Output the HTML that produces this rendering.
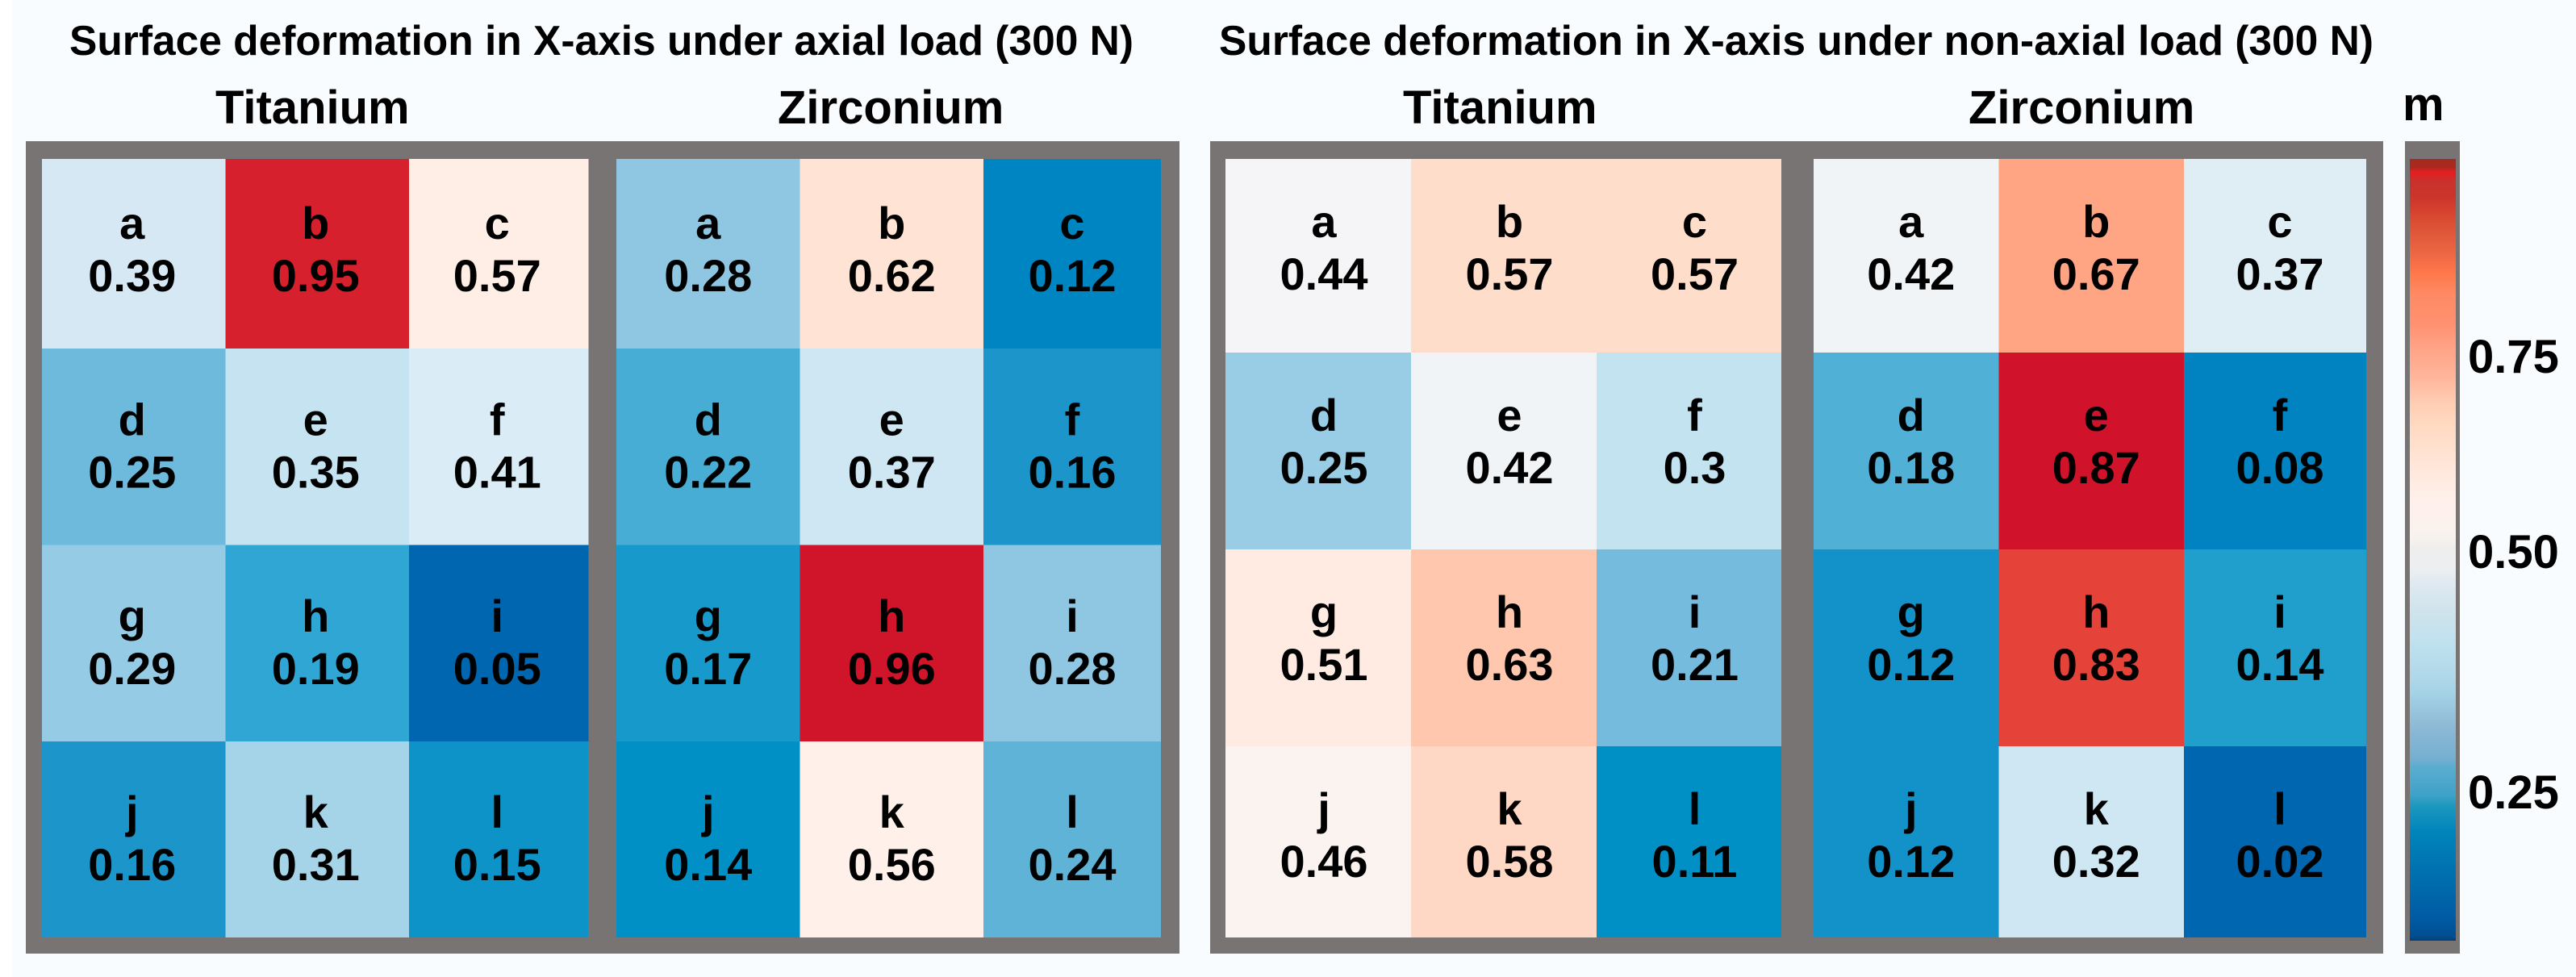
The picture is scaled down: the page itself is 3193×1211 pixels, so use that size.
<!DOCTYPE html>
<html lang="en">
<head>
<meta charset="utf-8">
<title>Surface deformation heatmaps</title>
<style>
  html, body { margin: 0; padding: 0; background: #fff; }
  body { width: 3193px; height: 1211px; overflow: hidden; }
  svg { display: block; }
  text { font-family: "Liberation Sans", Arial, sans-serif; font-weight: bold; fill: #000; }
</style>
</head>
<body>
<svg id="chart" xmlns="http://www.w3.org/2000/svg" width="3193" height="1211" viewBox="0 0 3193 1211">
  <defs>
    <linearGradient id="bar-gradient" x1="0" y1="197" x2="0" y2="1166" gradientUnits="userSpaceOnUse">
      <stop offset="0" stop-color="#A82A1E"/>
      <stop offset="0.011" stop-color="#A82A1E"/>
      <stop offset="0.016" stop-color="#E51D22"/>
      <stop offset="0.029" stop-color="#C9312C"/>
      <stop offset="0.050" stop-color="#CC352B"/>
      <stop offset="0.070" stop-color="#D7452F"/>
      <stop offset="0.101" stop-color="#E25C3C"/>
      <stop offset="0.122" stop-color="#EE6744"/>
      <stop offset="0.147" stop-color="#FF784C"/>
      <stop offset="0.173" stop-color="#FF8A64"/>
      <stop offset="0.209" stop-color="#FF9070"/>
      <stop offset="0.240" stop-color="#FFA285"/>
      <stop offset="0.282" stop-color="#FFB79C"/>
      <stop offset="0.313" stop-color="#FFCEB5"/>
      <stop offset="0.344" stop-color="#FFDAC4"/>
      <stop offset="0.395" stop-color="#FFE7DA"/>
      <stop offset="0.437" stop-color="#FFF0EB"/>
      <stop offset="0.483" stop-color="#F8F2EF"/>
      <stop offset="0.499" stop-color="#EEEEEE"/>
      <stop offset="0.524" stop-color="#ECEFF2"/>
      <stop offset="0.550" stop-color="#DCE8F0"/>
      <stop offset="0.581" stop-color="#CFE3EC"/>
      <stop offset="0.612" stop-color="#C2E2EF"/>
      <stop offset="0.658" stop-color="#B2D9EA"/>
      <stop offset="0.684" stop-color="#A5D2E6"/>
      <stop offset="0.725" stop-color="#8EBAD6"/>
      <stop offset="0.767" stop-color="#75AFD0"/>
      <stop offset="0.777" stop-color="#5CADD0"/>
      <stop offset="0.813" stop-color="#3FA2C8"/>
      <stop offset="0.829" stop-color="#1B97BF"/>
      <stop offset="0.860" stop-color="#0085BB"/>
      <stop offset="0.891" stop-color="#0078B4"/>
      <stop offset="0.932" stop-color="#006AAC"/>
      <stop offset="0.973" stop-color="#005AA4"/>
      <stop offset="0.994" stop-color="#004E90"/>
      <stop offset="1" stop-color="#003F78"/>
    </linearGradient>
  </defs>

  <rect x="15" y="0" width="3178" height="1211" fill="#F9FCFF"/>

  <text x="86" y="68" font-size="52" textLength="1319" lengthAdjust="spacingAndGlyphs">Surface deformation in X-axis under axial load (300 N)</text>
  <text x="1511" y="68" font-size="52" textLength="1431" lengthAdjust="spacingAndGlyphs">Surface deformation in X-axis under non-axial load (300 N)</text>

  <rect x="32" y="175" width="1430" height="1007" fill="#787474"/>
  <rect x="1500" y="175" width="1454" height="1007" fill="#787474"/>
  <rect x="2981" y="175" width="68" height="1007" fill="#787474"/>
  <rect x="2987" y="197" width="57" height="969" fill="url(#bar-gradient)"/>

  <text x="2978" y="149" font-size="58">m</text>
  <g id="cells"></g>
  <g id="ticks"></g>
</svg>

<script>
// ---- Data ----
const cellLetters = ['a','b','c','d','e','f','g','h','i','j','k','l'];

const titaniumAxial    = [0.39,0.95,0.57, 0.25,0.35,0.41, 0.29,0.19,0.05, 0.16,0.31,0.15];
const zirconiumAxial   = [0.28,0.62,0.12, 0.22,0.37,0.16, 0.17,0.96,0.28, 0.14,0.56,0.24];
const titaniumNonAxial = [0.44,0.57,0.57, 0.25,0.42,0.30, 0.51,0.63,0.21, 0.46,0.58,0.11];
const zirconiumNonAxial= [0.42,0.67,0.37, 0.18,0.87,0.08, 0.12,0.83,0.14, 0.12,0.32,0.02];

const materialTitanium = 'Titanium';
const materialZirconium = 'Zirconium';

const tickValues = [0.75, 0.50, 0.25];
const tickLabels = ['0.75', '0.50', '0.25'];

// Colour scale knots (value -> colour), one scale per load condition
const axialColorValues = [0.05,0.12,0.14,0.16,0.17,0.19,0.22,0.24,0.25,0.28,0.31,0.35,0.37,0.39,0.41,0.56,0.57,0.62,0.95,0.96];
const axialColors = ['#0066B0','#0085C3','#0090C6','#1C96CA','#1899CB','#2FA6D3','#47ADD5','#5FB3D6','#6DBADC','#8FC7E3','#A5D3E8','#C5E3F0','#CFE6F3','#D5E8F3','#DAECF5','#FFF1EA','#FFEEE6','#FFE3D4','#D7202D','#D0142A'];
const nonAxialColorValues = [0.02,0.08,0.11,0.12,0.14,0.18,0.21,0.25,0.30,0.32,0.37,0.42,0.44,0.46,0.51,0.57,0.58,0.63,0.67,0.83,0.87];
const nonAxialColors = ['#0066B0','#0083C0','#0090C6','#1292C9','#209FCD','#50B0D6','#75BBDE','#99CCE5','#C3E3F1','#CFE7F3','#DFEEF5','#F0F4F7','#F5F5F8','#FBF3F0','#FFEBE2','#FFDDCB','#FFD8C5','#FFC7AE','#FFA583','#E54239','#D0122A'];

// ---- Scales ----
const SVG_NS = 'http://www.w3.org/2000/svg';

function hexToRgb(h) {
  return [parseInt(h.slice(1,3),16), parseInt(h.slice(3,5),16), parseInt(h.slice(5,7),16)];
}
function colorScale(v, knots, colors) {
  if (v <= knots[0]) return colors[0];
  const last = knots.length - 1;
  if (v >= knots[last]) return colors[last];
  for (let i = 0; i < last; i++) {
    if (v >= knots[i] && v <= knots[i+1]) {
      const t = (v - knots[i]) / (knots[i+1] - knots[i]);
      const a = hexToRgb(colors[i]), b = hexToRgb(colors[i+1]);
      const c = a.map((x, k) => Math.round(x + (b[k] - x) * t));
      return 'rgb(' + c.join(',') + ')';
    }
  }
  return colors[last];
}
function tickBaseline(v) {
  return v >= 0.5 ? 704 - (v - 0.5) * 968 : 704 + (0.5 - v) * 1192;
}

// ---- Drawing ----
const cellsGroup = document.getElementById('cells');
const ticksGroup = document.getElementById('ticks');

function drawPanel(panel, material, values, knots, colors, layout) {
  const group = document.createElementNS(SVG_NS, 'g');
  
  
  cellsGroup.appendChild(group);

  const heading = document.createElementNS(SVG_NS, 'text');
  
  
  heading.setAttribute('x', layout.headingX);
  heading.setAttribute('y', 153);
  heading.setAttribute('font-size', 58);
  heading.textContent = material;
  group.appendChild(heading);

  const colEdge = i => i === 3 ? layout.x1 : layout.x0 + i * layout.colW;
  const rowEdge = r => r === 0 ? 197 : r === 4 ? 1162 : 197 + layout.firstH + (r - 1) * layout.rowH;

  values.forEach((v, idx) => {
    const col = idx % 3, row = Math.floor(idx / 3);
    const xa = colEdge(col), xb = colEdge(col + 1);
    const ya = rowEdge(row), yb = rowEdge(row + 1);

    const rect = document.createElementNS(SVG_NS, 'rect');
    
    
    rect.setAttribute('x', xa);
    rect.setAttribute('y', ya);
    rect.setAttribute('width', xb - xa);
    rect.setAttribute('height', yb - ya);
    rect.setAttribute('fill', colorScale(v, knots, colors));
    group.appendChild(rect);

    const cx = (xa + xb) / 2 + layout.dx;
    const base = layout.fromBottom ? yb - 71 : ya + 162;

    const letter = document.createElementNS(SVG_NS, 'text');
    
    
    letter.setAttribute('x', cx);
    letter.setAttribute('y', base - 65);
    letter.setAttribute('font-size', 56);
    letter.setAttribute('text-anchor', 'middle');
    letter.textContent = cellLetters[idx];
    group.appendChild(letter);

    const value = document.createElementNS(SVG_NS, 'text');
    
    
    value.setAttribute('x', cx);
    value.setAttribute('y', base);
    value.setAttribute('font-size', 56);
    value.setAttribute('text-anchor', 'middle');
    value.textContent = String(v);
    group.appendChild(value);
  });
}

drawPanel('axial-titanium', materialTitanium, titaniumAxial, axialColorValues, axialColors,
  { x0: 52, colW: 227.5, x1: 729.5, firstH: 235, rowH: 243.5, dx: -2, fromBottom: true, headingX: 267 });
drawPanel('axial-zirconium', materialZirconium, zirconiumAxial, axialColorValues, axialColors,
  { x0: 764, colW: 227.5, x1: 1439, firstH: 235, rowH: 243.5, dx: 0, fromBottom: true, headingX: 964 });
drawPanel('non-axial-titanium', materialTitanium, titaniumNonAxial, nonAxialColorValues, nonAxialColors,
  { x0: 1519, colW: 230, x1: 2208, firstH: 240, rowH: 244, dx: 7, fromBottom: false, headingX: 1739 });
drawPanel('non-axial-zirconium', materialZirconium, zirconiumNonAxial, nonAxialColorValues, nonAxialColors,
  { x0: 2248, colW: 229.5, x1: 2933, firstH: 240, rowH: 244, dx: 6, fromBottom: false, headingX: 2440 });

tickValues.forEach((v, i) => {
  const t = document.createElementNS(SVG_NS, 'text');
  
  
  t.setAttribute('x', 3059);
  t.setAttribute('y', tickBaseline(v));
  t.setAttribute('font-size', 58);
  t.textContent = tickLabels[i];
  ticksGroup.appendChild(t);
});
</script>
</body>
</html>
